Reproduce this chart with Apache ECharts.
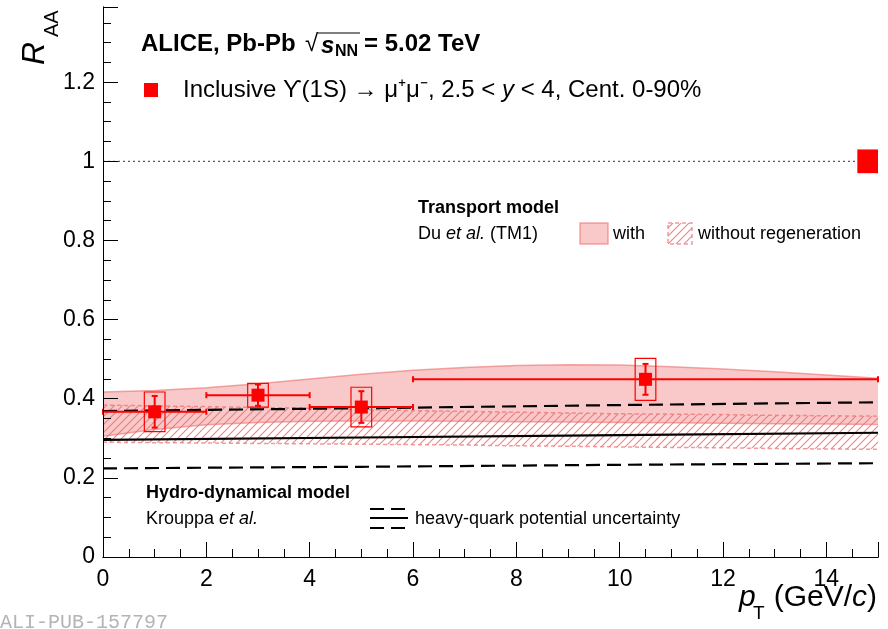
<!DOCTYPE html>
<html><head><meta charset="utf-8">
<script src="https://cdn.jsdelivr.net/npm/echarts@6/dist/echarts.min.js"></script>
<style>html,body{margin:0;padding:0;background:#fff}#c{width:888px;height:629px}</style>
</head><body><div id="c"></div>
<script>
// ---------------- data ----------------
const ptCenter   = [1, 3, 5, 10.5];
const ptErrLow   = [1, 1, 1, 4.5];
const ptErrHigh  = [1, 1, 1, 4.5];
const raaValues  = [0.367, 0.409, 0.379, 0.449];
const statErr    = [0.040, 0.027, 0.040, 0.039];
const sysErr     = [0.050, 0.030, 0.050, 0.053];
const globalUnc  = 0.03;
const globalBoxCenter = 14.8;

const modelPt       = [0, 1, 2, 3, 4, 5, 6, 7, 8, 9, 10, 11, 12, 13, 14, 15];
const tmWithHigh    = [0.417, 0.421, 0.428, 0.438, 0.450, 0.462, 0.472, 0.479, 0.484, 0.486, 0.485, 0.481, 0.475, 0.468, 0.460, 0.452];
const tmWithLow     = [0.305, 0.322, 0.334, 0.340, 0.343, 0.344, 0.344, 0.343, 0.342, 0.341, 0.340, 0.339, 0.338, 0.337, 0.336, 0.335];
const tmWithoutHigh = [0.384, 0.382, 0.380, 0.378, 0.376, 0.373, 0.370, 0.368, 0.366, 0.364, 0.362, 0.361, 0.360, 0.358, 0.357, 0.356];
const tmWithoutLow  = [0.290, 0.289, 0.288, 0.287, 0.286, 0.285, 0.284, 0.283, 0.281, 0.280, 0.278, 0.277, 0.276, 0.274, 0.273, 0.272];

const hydroPt      = [0, 5, 10, 15];
const hydroCentral = [0.296, 0.302, 0.308, 0.314];
const hydroUpper   = [0.369, 0.376, 0.384, 0.391];
const hydroLower   = [0.224, 0.228, 0.233, 0.237];

const xRange = [0, 15];
const yRange = [0, 1.39];
const xTickStep = 2;
const yTickStep = 0.2;

// ---------------- styles ----------------
const FONT = '"Liberation Sans", Arial, Helvetica, sans-serif';
const RED = '#ff0000';
const boxHalf = 0.2;

function hatchPattern() {
  const c = document.createElement('canvas');
  c.width = 8; c.height = 8;
  const g = c.getContext('2d');
  g.strokeStyle = 'rgba(238,100,100,0.8)';
  g.lineWidth = 1.1;
  g.beginPath();
  g.moveTo(0, 8); g.lineTo(8, 0);
  g.moveTo(-2, 2); g.lineTo(2, -2);
  g.moveTo(6, 10); g.lineTo(10, 6);
  g.stroke();
  return c;
}
const HATCH = { image: hatchPattern(), repeat: 'repeat' };

function bandRenderer(high, low, fill, stroke, dash) {
  return function (params, api) {
    if (params.dataIndex !== 0) return;
    const top = modelPt.map((x, i) => api.coord([x, high[i]]));
    const bot = modelPt.map((x, i) => api.coord([x, low[i]]));
    return {
      type: 'group',
      children: [
        { type: 'polygon', shape: { points: top.concat(bot.slice().reverse()) }, style: { fill: fill, stroke: null } },
        { type: 'polyline', shape: { points: top }, style: { stroke: stroke, lineWidth: 1.5, lineDash: dash, fill: null } },
        { type: 'polyline', shape: { points: bot }, style: { stroke: stroke, lineWidth: 1.5, lineDash: dash, fill: null } }
      ]
    };
  };
}

function pointRenderer(params, api) {
  const x = api.value(0), y = api.value(1);
  const xl = api.value(2), xh = api.value(3), st = api.value(4), sy = api.value(5);
  const c = api.coord([x, y]);
  const l = api.coord([x - xl, y]), r = api.coord([x + xh, y]);
  const t = api.coord([x, y + st]), b = api.coord([x, y - st]);
  const bt = api.coord([x - boxHalf, y + sy]), bb = api.coord([x + boxHalf, y - sy]);
  const ls = { stroke: RED, lineWidth: 2 };
  const ms = 13;
  return {
    type: 'group',
    children: [
      { type: 'rect', shape: { x: bt[0], y: bt[1], width: bb[0] - bt[0], height: bb[1] - bt[1] }, style: { fill: null, stroke: RED, lineWidth: 1.2 } },
      { type: 'line', shape: { x1: l[0], y1: l[1], x2: r[0], y2: r[1] }, style: ls },
      { type: 'line', shape: { x1: l[0], y1: l[1] - 3, x2: l[0], y2: l[1] + 3 }, style: ls },
      { type: 'line', shape: { x1: r[0], y1: r[1] - 3, x2: r[0], y2: r[1] + 3 }, style: ls },
      { type: 'line', shape: { x1: t[0], y1: t[1], x2: b[0], y2: b[1] }, style: ls },
      { type: 'line', shape: { x1: t[0] - 3, y1: t[1], x2: t[0] + 3, y2: t[1] }, style: ls },
      { type: 'line', shape: { x1: b[0] - 3, y1: b[1], x2: b[0] + 3, y2: b[1] }, style: ls },
      { type: 'rect', shape: { x: c[0] - ms / 2, y: c[1] - ms / 2, width: ms, height: ms }, style: { fill: RED } }
    ]
  };
}

function globalRenderer(params, api) {
  const x = api.value(0), y = api.value(1), u = api.value(2);
  const a = api.coord([x - boxHalf, y + u]), b = api.coord([x + boxHalf, y - u]);
  return { type: 'rect', shape: { x: a[0], y: a[1], width: b[0] - a[0], height: b[1] - a[1] }, style: { fill: RED } };
}

function text(x, y, str, size, opts) {
  opts = opts || {};
  return {
    type: 'text', x: x, y: y, z: 100,
    style: Object.assign({
      text: str, fontSize: size, fontFamily: FONT, fill: '#000',
      align: 'left', verticalAlign: 'middle'
    }, opts)
  };
}

const chart = echarts.init(document.getElementById('c'), null, { renderer: 'canvas' });

const axisCommon = {
  z: 10,
  axisLine: { show: true, lineStyle: { color: '#000', width: 1 } },
  splitLine: { show: false }
};

const option = {
  animation: false,
  backgroundColor: '#fff',
  grid: { left: 103, right: 10, top: 7, bottom: 72, show: false },
  xAxis: [
    Object.assign({}, axisCommon, {
      type: 'value', min: xRange[0], max: xRange[1], interval: xTickStep,
      axisTick: { show: true, inside: true, length: 15, lineStyle: { color: '#000' } },
      minorTick: { show: true, splitNumber: 4, length: 8, lineStyle: { color: '#000' } },
      axisLabel: { show: true, showMaxLabel: false, margin: 11, fontSize: 23, fontFamily: FONT, color: '#000' }
    }),
    Object.assign({}, axisCommon, {
      type: 'value', position: 'top', min: xRange[0], max: xRange[1],
      axisTick: { show: false }, axisLabel: { show: false }
    })
  ],
  yAxis: [
    Object.assign({}, axisCommon, {
      type: 'value', min: yRange[0], max: yRange[1], interval: yTickStep,
      axisTick: { show: true, inside: true, length: 15, lineStyle: { color: '#000' } },
      minorTick: { show: true, splitNumber: 4, length: 8, lineStyle: { color: '#000' } },
      axisLabel: { show: true, showMaxLabel: false, margin: 8, fontSize: 23, fontFamily: FONT, color: '#000',
        formatter: v => String(parseFloat(v.toFixed(2))) }
    }),
    Object.assign({}, axisCommon, {
      type: 'value', position: 'right', min: yRange[0], max: yRange[1],
      axisTick: { show: false }, axisLabel: { show: false }
    })
  ],
  series: [
    { type: 'custom', z: 1, silent: true, renderItem: bandRenderer(tmWithoutHigh, tmWithoutLow, HATCH, 'rgba(240,120,120,0.75)', [4, 3]),
      data: modelPt.map((x, i) => [x, tmWithoutHigh[i]]), encode: { x: 0, y: 1 } },
    { type: 'custom', z: 2, silent: true, renderItem: bandRenderer(tmWithHigh, tmWithLow, 'rgba(240,110,110,0.38)', 'rgba(240,110,110,0.6)', null),
      data: modelPt.map((x, i) => [x, tmWithHigh[i]]), encode: { x: 0, y: 1 } },
    { type: 'line', z: 3, symbol: 'none', silent: true, data: hydroPt.map((x, i) => [x, hydroCentral[i]]),
      lineStyle: { color: '#000', width: 2.2 } },
    { type: 'line', z: 3, symbol: 'none', silent: true, data: hydroPt.map((x, i) => [x, hydroUpper[i]]),
      lineStyle: { color: '#000', width: 2.2, type: [14, 7] } },
    { type: 'line', z: 3, symbol: 'none', silent: true, data: hydroPt.map((x, i) => [x, hydroLower[i]]),
      lineStyle: { color: '#000', width: 2.2, type: [14, 7] } },
    { type: 'line', z: 3, symbol: 'none', silent: true, data: [[xRange[0], 1], [globalBoxCenter - boxHalf, 1]],
      lineStyle: { color: '#333', width: 1, type: [2, 3] } },
    { type: 'custom', z: 5, renderItem: pointRenderer,
      data: ptCenter.map((x, i) => [x, raaValues[i], ptErrLow[i], ptErrHigh[i], statErr[i], sysErr[i]]),
      encode: { x: 0, y: 1 } },
    { type: 'custom', z: 5, renderItem: globalRenderer, data: [[globalBoxCenter, 1, globalUnc]], encode: { x: 0, y: 1 } }
  ],
  graphic: [
    // y-axis title R_AA
    { type: 'group', x: 51, y: 65, rotation: Math.PI / 2, z: 100, children: [
      { type: 'text', x: 0, y: 0, style: { text: 'R', fontSize: 32, fontStyle: 'italic', fontFamily: FONT, fill: '#000', align: 'left', verticalAlign: 'bottom' } },
      { type: 'text', x: 28, y: 11, style: { text: 'AA', fontSize: 20, fontFamily: FONT, fill: '#000', align: 'left', verticalAlign: 'bottom' } }
    ] },
    // x-axis title
    text(739, 598, 'p', 30, { fontStyle: 'italic' }),
    text(753, 614, 'T', 19),
    text(877, 598, '{n|(GeV/}{i|c}{n|)}', 30, { align: 'right', rich: {
      n: { fontSize: 30, fontFamily: FONT, fill: '#000' },
      i: { fontSize: 30, fontFamily: FONT, fontStyle: 'italic', fill: '#000' } } }),
    // header
    text(141, 44, 'ALICE, Pb-Pb', 24, { fontWeight: 'bold' }),
    text(305, 44, '\u221A', 24, { fontWeight: 'normal' }),
    { type: 'line', z: 100, shape: { x1: 318, y1: 33, x2: 360, y2: 33 }, style: { stroke: '#000', lineWidth: 1.2 } },
    text(321, 46, 's', 24, { fontWeight: 'bold', fontStyle: 'italic' }),
    text(335, 52, 'NN', 16, { fontWeight: 'bold' }),
    text(364, 44, '= 5.02 TeV', 24, { fontWeight: 'bold' }),
    { type: 'rect', z: 100, shape: { x: 144, y: 83, width: 14, height: 14 }, style: { fill: RED } },
    text(183, 90, '{n|Inclusive \u03D2(1S) \u2192 \u03BC\u207A\u03BC\u207B, 2.5 < }{i|y}{n| < 4, Cent. 0-90%}', 24, { rich: {
      n: { fontSize: 24, fontFamily: FONT, fill: '#000' },
      i: { fontSize: 24, fontFamily: FONT, fontStyle: 'italic', fill: '#000' } } }),
    // transport model legend
    text(418, 208, 'Transport model', 18, { fontWeight: 'bold' }),
    text(418, 234, '{n|Du }{i|et al.}{n| (TM1)}', 18, { rich: {
      n: { fontSize: 18, fontFamily: FONT, fill: '#000' },
      i: { fontSize: 18, fontFamily: FONT, fontStyle: 'italic', fill: '#000' } } }),
    { type: 'rect', z: 100, shape: { x: 580, y: 223, width: 28, height: 21 }, style: { fill: 'rgba(240,110,110,0.38)', stroke: 'rgba(240,110,110,0.6)', lineWidth: 1.5 } },
    text(613, 234, 'with', 18),
    { type: 'rect', z: 100, shape: { x: 668, y: 223, width: 24, height: 21 }, style: { fill: HATCH, stroke: 'rgba(240,120,120,0.75)', lineWidth: 1.5, lineDash: [4, 3] } },
    text(698, 234, 'without regeneration', 18),
    // hydro legend
    text(146, 493, 'Hydro-dynamical model', 18, { fontWeight: 'bold' }),
    text(146, 519, '{n|Krouppa }{i|et al.}', 18, { rich: {
      n: { fontSize: 18, fontFamily: FONT, fill: '#000' },
      i: { fontSize: 18, fontFamily: FONT, fontStyle: 'italic', fill: '#000' } } }),
    { type: 'line', z: 100, shape: { x1: 370, y1: 509, x2: 408, y2: 509 }, style: { stroke: '#000', lineWidth: 2.2, lineDash: [14, 7] } },
    { type: 'line', z: 100, shape: { x1: 370, y1: 518, x2: 408, y2: 518 }, style: { stroke: '#000', lineWidth: 2.2 } },
    { type: 'line', z: 100, shape: { x1: 370, y1: 528, x2: 408, y2: 528 }, style: { stroke: '#000', lineWidth: 2.2, lineDash: [14, 7] } },
    text(415, 519, 'heavy-quark potential uncertainty', 18),
    // watermark
    text(0, 623, 'ALI-PUB-157797', 20, { fontFamily: '"Liberation Mono", "DejaVu Sans Mono", monospace', fill: '#b4b4b4' })
  ]
};
chart.setOption(option);
</script>
</body></html>
